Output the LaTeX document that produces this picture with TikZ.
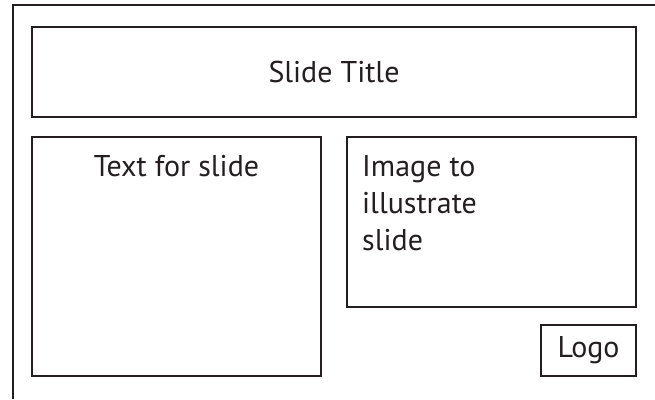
\documentclass[tikz,border=0pt]{standalone}
\usepackage{fontspec}
\setmainfont{PT Sans}
\usetikzlibrary{positioning}
\definecolor{ink}{HTML}{231F20}
\tikzset{
  slidebox/.style={draw=ink, line width=2pt, inner sep=0pt},
  slidetext/.style={text=ink, font=\fontsize{30}{37}\selectfont, inner sep=0pt},
}

\begin{document}
\begin{tikzpicture}[x=1pt,y=-1pt]
  \useasboundingbox (0,0) rectangle (655,399);
  % page edge
  \draw[ink, line width=2pt] (13,399) -- (13,5) -- (655,5);
  \node[slidebox, slidetext, minimum width=604pt, minimum height=90pt] (title) at (334,72) {Slide Title};
  \node[slidebox, minimum width=289pt, minimum height=239pt] (textbox) at (176.5,256.5) {};
  \node[slidebox, minimum width=289pt, minimum height=170pt] (imagebox) at (491.5,222) {};
  \node[slidebox, slidetext, minimum width=95pt, minimum height=51pt] (logo) at (588.5,350.5) {Logo};
  % labels
  \node[slidetext, anchor=base] (textlabel) at ([yshift=-40pt]textbox.north) {Text for slide};
  \node[slidetext, anchor=north west, align=left] (imagelabel) at ([xshift=16pt,yshift=-19pt]imagebox.north west) {Image to\\illustrate\\slide};
\end{tikzpicture}
\end{document}
